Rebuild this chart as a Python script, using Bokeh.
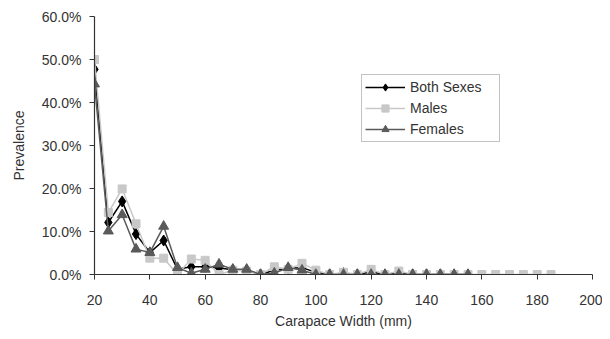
from bokeh.plotting import figure
from bokeh.embed import file_html
from bokeh.resources import INLINE
from bokeh.models import NumeralTickFormatter, FixedTicker, Range1d, Legend, LegendItem

# Data (prevalence as fraction)
width_both = [20, 25, 30, 35, 40, 45, 50, 55, 60, 65, 70, 75, 80, 85, 90, 95, 100,
              105, 110, 115, 120, 125, 130, 135, 140, 145, 150, 155]
both = [0.477, 0.121, 0.170, 0.094, 0.051, 0.079, 0.012, 0.018, 0.018, 0.015, 0.011, 0.010,
        0.000, 0.010, 0.014, 0.016, 0.005, 0.000, 0.003, 0.000, 0.006, 0.000, 0.004,
        0.000, 0.000, 0.000, 0.000, 0.000]

width_males = [20, 25, 30, 35, 40, 45, 50, 55, 60, 65, 70, 75, 80, 85, 90, 95, 100,
               105, 110, 115, 120, 125, 130, 135, 140, 145, 150, 155, 160, 165, 170,
               175, 180, 185]
males = [0.500, 0.144, 0.199, 0.118, 0.038, 0.038, 0.000, 0.036, 0.033, 0.000, 0.010, 0.008,
         0.000, 0.018, 0.012, 0.026, 0.010, 0.000, 0.005, 0.000, 0.012, 0.000, 0.008,
         0.000, 0.000, 0.000, 0.000, 0.000, 0.000, 0.000, 0.000, 0.000, 0.000, 0.000]

width_females = width_both
females = [0.443, 0.101, 0.139, 0.059, 0.051, 0.112, 0.016, 0.003, 0.012, 0.024, 0.012, 0.012,
           0.000, 0.003, 0.016, 0.010, 0.000, 0.000, 0.000, 0.000, 0.000, 0.000, 0.000,
           0.000, 0.000, 0.000, 0.000, 0.000]

x_ticks = [20, 40, 60, 80, 100, 120, 140, 160, 180, 200]
y_ticks = [0.0, 0.1, 0.2, 0.3, 0.4, 0.5, 0.6]

FONT = "Liberation Sans"
TXT = "#333333"

p = figure(width=602, height=331, output_backend="svg", toolbar_location=None,
           x_range=Range1d(20, 200), y_range=Range1d(0, 0.6),
           min_border_left=94, min_border_right=10, min_border_top=16, min_border_bottom=45)
p.outline_line_color = None
p.grid.visible = False
p.background_fill_color = "white"

c_both, c_m, c_f = "#000000", "#c8c8c8", "#5a5a5a"

l1 = p.line(width_both, both, line_color=c_both, line_width=1.5)
s1 = p.scatter(width_both, both, marker="diamond", size=11, fill_color=c_both, line_color=c_both)
l2 = p.line(width_males, males, line_color=c_m, line_width=1.5)
s2 = p.scatter(width_males, males, marker="square", size=8, fill_color=c_m, line_color=c_m)
l3 = p.line(width_females, females, line_color=c_f, line_width=1.5)
s3 = p.scatter(width_females, females, marker="triangle", size=10, fill_color=c_f, line_color=c_f)

for ax in (p.xaxis[0], p.yaxis[0]):
    ax.axis_line_color = "#333333"
    ax.axis_line_width = 1.2
    ax.major_tick_line_color = "#333333"
    ax.major_tick_out = 5
    ax.major_tick_in = 0
    ax.minor_tick_line_color = None
    ax.major_label_text_font = FONT
    ax.major_label_text_font_size = "14px"
    ax.major_label_text_color = TXT
    ax.axis_label_text_font = FONT
    ax.axis_label_text_font_size = "14px"
    ax.axis_label_text_font_style = "normal"
    ax.axis_label_text_color = TXT

p.xaxis.ticker = FixedTicker(ticks=x_ticks)
p.yaxis.ticker = FixedTicker(ticks=y_ticks)
p.yaxis.formatter = NumeralTickFormatter(format="0.0%")
p.xaxis.axis_label = "Carapace Width (mm)"
p.yaxis.axis_label = "Prevalence"
p.xaxis.major_label_standoff = 15
p.yaxis.major_label_standoff = 8
p.xaxis.axis_label_standoff = 5
p.yaxis.axis_label_standoff = 12

legend = Legend(items=[
    LegendItem(label="Both Sexes", renderers=[l1, s1]),
    LegendItem(label="Males", renderers=[l2, s2]),
    LegendItem(label="Females", renderers=[l3, s3]),
], location=(267, 132))
legend.border_line_color = "#888888"
legend.border_line_width = 1
legend.padding = 3
legend.spacing = 3
legend.margin = 0
legend.glyph_width = 40
legend.glyph_height = 18
legend.label_height = 18
legend.label_width = 86
legend.label_standoff = 5
legend.label_text_font = FONT
legend.label_text_font_size = "14px"
legend.label_text_color = TXT
legend.background_fill_alpha = 1
p.add_layout(legend, "center")

open("out.html", "w").write(file_html(p, INLINE))
